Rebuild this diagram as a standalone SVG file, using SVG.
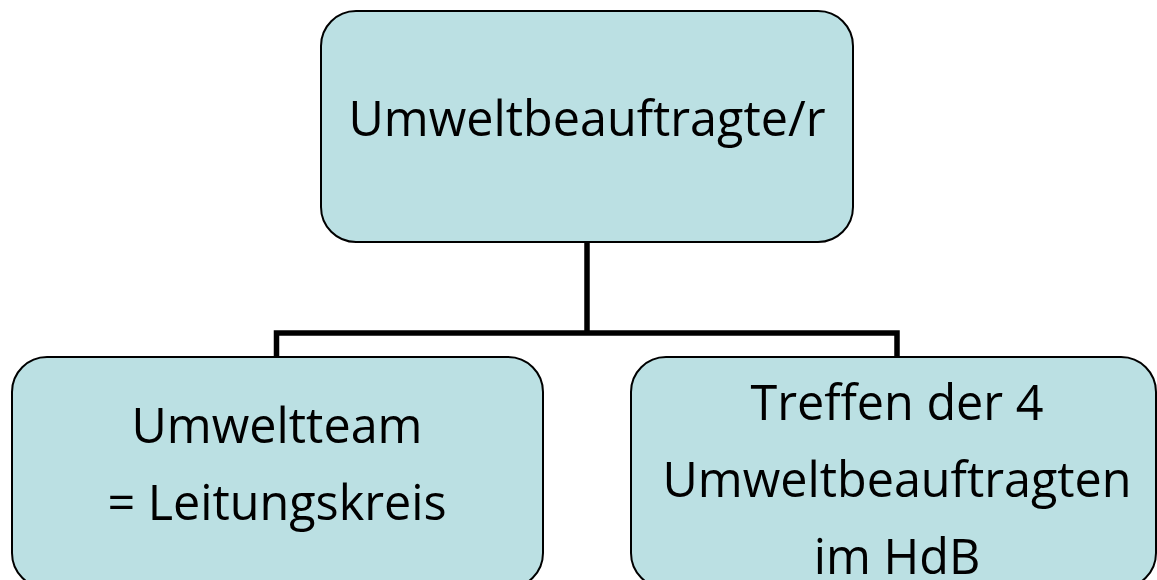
<svg xmlns="http://www.w3.org/2000/svg" width="1157" height="580" viewBox="0 0 1157 580">
<style>
.box{fill:#BBE0E3;stroke:#000;stroke-width:2}
.lbl{font-family:"Open Sans","Lato",sans-serif;font-size:48.5px;fill:#000;text-anchor:middle}
.conn{fill:none;stroke:#000;stroke-width:5.5}
</style>
<rect width="1157" height="580" fill="#fff"/>
<g id="connectors">
<polyline class="conn" points="587,242 587,333"/>
<polyline class="conn" points="276.5,357 276.5,333 897,333 897,357"/>
</g>
<g id="node-top">
<rect class="box" x="321" y="11" width="532" height="231" rx="35" ry="35"/>
<text class="lbl" x="587" y="136">Umweltbeauftragte/r</text>
</g>
<g id="node-left">
<rect class="box" x="12" y="357" width="531" height="231" rx="35" ry="35"/>
<text class="lbl" x="277" y="443">Umweltteam</text>
<text class="lbl" x="277" y="520">= Leitungskreis</text>
</g>
<g id="node-right">
<rect class="box" x="631" y="357" width="525" height="231" rx="35" ry="35"/>
<text class="lbl" x="897" y="420">Treffen der 4</text>
<text class="lbl" x="897" y="497">Umweltbeauftragten</text>
<text class="lbl" x="897" y="574">im HdB</text>
</g>
</svg>
